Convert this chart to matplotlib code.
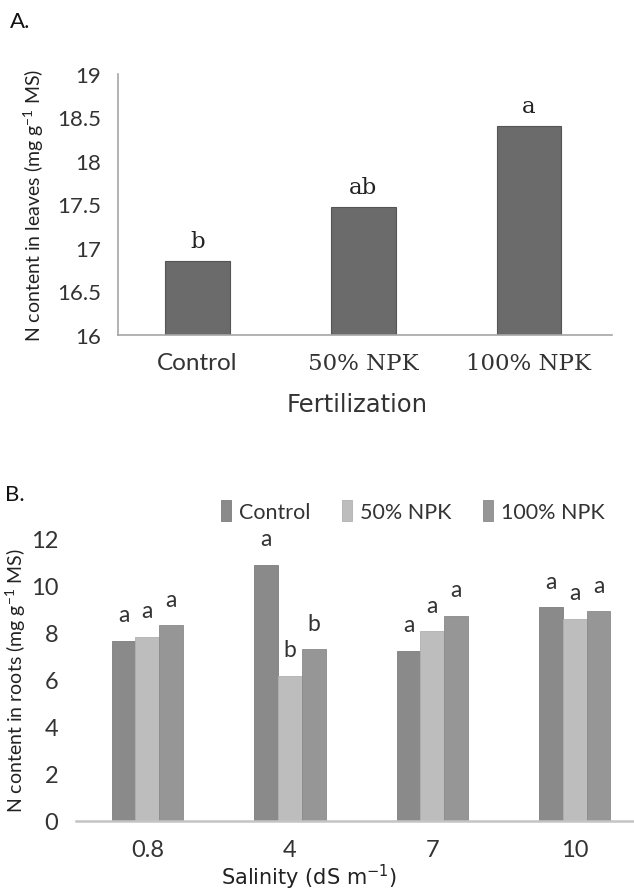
import numpy as np
import matplotlib.pyplot as plt

plt.rcParams['font.family'] = ['Lato', 'DejaVu Sans']

# N in leaves by fertilization treatment
fert_labels = ['Control', '50% NPK', '100% NPK']
n_leaves = [16.85, 17.47, 18.40]
leaves_letters = ['b', 'ab', 'a']

# N in roots by salinity level and treatment
salinity = ['0.8', '4', '7', '10']
roots_control = [7.66, 10.89, 7.24, 9.08]
roots_50 = [7.84, 6.18, 8.07, 8.59]
roots_100 = [8.31, 7.31, 8.72, 8.91]
letters_control = ['a', 'a', 'a', 'a']
letters_50 = ['a', 'b', 'a', 'a']
letters_100 = ['a', 'b', 'a', 'a']

fig = plt.figure(figsize=(6.34, 8.95), dpi=100)

# ---- panel A ----
axA = fig.add_axes([0.186, 0.6246, 0.779, 0.2916])
x = np.arange(len(fert_labels))
axA.bar(x, n_leaves, width=0.39, bottom=0, color='#6b6b6b', edgecolor='#555555', linewidth=0.8)
axA.set_ylim(16, 19)
axA.set_xlim(-0.48, 2.5)
axA.set_yticks([16, 16.5, 17, 17.5, 18, 18.5, 19])
axA.set_yticklabels(['16', '16.5', '17', '17.5', '18', '18.5', '19'])
axA.set_xticks(x)
axA.set_xticklabels(fert_labels)
axA.tick_params(axis='both', length=0, labelsize=16, colors='#333333')
axA.tick_params(axis='y', pad=12)
axA.tick_params(axis='x', pad=12)
axA.get_xticklabels()[0].set_fontsize(17.5)
for lab in axA.get_xticklabels()[1:]:
    lab.set_fontfamily('DejaVu Serif')
    lab.set_fontsize(16.5)
for s in ['top', 'right']:
    axA.spines[s].set_visible(False)
for s in ['left', 'bottom']:
    axA.spines[s].set_color('#a6a6a6')
    axA.spines[s].set_linewidth(1.2)
for xi, v, t in zip(x, n_leaves, leaves_letters):
    axA.annotate(t, (xi, v), xytext=(0, 10), textcoords='offset points',
                 ha='center', va='baseline', fontsize=16.5, family='DejaVu Serif', color='#222222')
axA.set_ylabel('N content in leaves (mg g$^{\\mathregular{-1}}$ MS)', fontsize=14, color='#222222', labelpad=8)
axA.set_xlabel('Fertilization', fontsize=17.5, family='DejaVu Sans', color='#333333')
axA.xaxis.label.set_va('center')
axA.xaxis.set_label_coords(0.484, -0.264)
fig.text(0.016, 0.975, 'A.', fontsize=16, color='#111111', va='center')

# ---- panel B ----
axB = fig.add_axes([0.12, 0.0816, 0.899, 0.3154])
xb = np.arange(len(salinity))
w = 0.167
axB.bar(xb - w, roots_control, width=w, color='#8a8a8a', edgecolor='#7d7d7d', linewidth=0.6, label='Control')
axB.bar(xb, roots_50, width=w, color='#bdbdbd', edgecolor='#b0b0b0', linewidth=0.6, label='50% NPK')
axB.bar(xb + w, roots_100, width=w, color='#969696', edgecolor='#8a8a8a', linewidth=0.6, label='100% NPK')
for off, vals, lets in [(-w, roots_control, letters_control), (0, roots_50, letters_50), (w, roots_100, letters_100)]:
    for xi, v, t in zip(xb, vals, lets):
        axB.annotate(t, (xi + off, v), xytext=(0, 14), textcoords='offset points',
                     ha='center', va='baseline', fontsize=16.5, color='#333333')
axB.set_ylim(0, 12)
axB.set_xlim(-0.5, 3.5)
axB.set_yticks(range(0, 13, 2))
axB.set_xticks(xb)
axB.set_xticklabels(salinity)
axB.tick_params(axis='both', length=0, labelsize=17, colors='#333333')
axB.tick_params(axis='y', pad=13)
axB.tick_params(axis='x', pad=13)
for s in ['top', 'right', 'left']:
    axB.spines[s].set_visible(False)
axB.spines['bottom'].set_color('#c4c4c4')
axB.spines['bottom'].set_linewidth(1.8)
axB.set_ylabel('N content in roots (mg g$^{\\mathregular{-1}}$ MS)', fontsize=14, color='#222222', labelpad=2)
axB.set_xlabel('Salinity (dS m$^{\\mathregular{-1}}$)', fontsize=15, family='DejaVu Sans', color='#222222')
axB.xaxis.label.set_va('center')
axB.xaxis.set_label_coords(0.409, -0.196)
axB.legend(loc='lower left', bbox_to_anchor=(0.24, 1.03), ncol=3, frameon=False,
           handlelength=0.45, handleheight=1.1, handletextpad=0.35, columnspacing=1.5,
           fontsize=15.5, labelcolor='#333333', borderaxespad=0)
fig.text(0.008, 0.447, 'B.', fontsize=16, color='#111111', va='center')

fig.savefig('out.png', dpi=100)
